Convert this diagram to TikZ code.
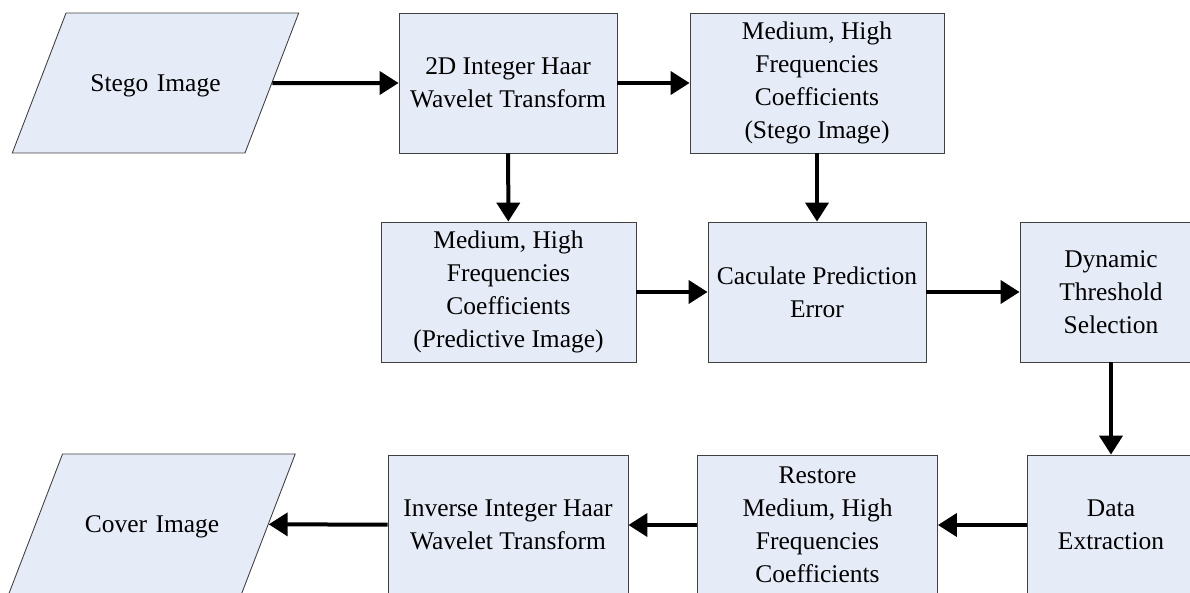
\documentclass[tikz,border=0pt]{standalone}
\usepackage{fontspec}
\setmainfont{Liberation Serif}
\usetikzlibrary{arrows.meta,shapes.geometric}
\definecolor{boxfill}{HTML}{E6ECF7}
\definecolor{boxline}{HTML}{404040}

\begin{document}
\begin{tikzpicture}[
    x=0.02cm, y=-0.02cm,
    box/.style={draw=boxline, fill=boxfill, line width=0.5pt, minimum height=2.8cm,
                inner sep=2pt, align=center, font=\fontsize{14.5}{18.8}\selectfont},
    io/.style={box, trapezium, trapezium left angle=69, trapezium right angle=111,
               minimum height=0pt, inner sep=0pt, text width=3.58cm,
               text height=1.57cm, text depth=1.23cm},
    flow/.style={-{Triangle[length=0.38cm, width=0.46cm]}, line width=0.08cm}
]
    \clip (0,0) rectangle (1190,592);

    % 第一行
    \node[io] (stego) at (155.5,83) {Stego Image};
    \node[box, minimum width=4.36cm] (haar) at (508,83) {2D Integer Haar\\Wavelet Transform};
    \node[box, minimum width=5.08cm] (mhfs) at (817,83) {Medium, High\\Frequencies\\Coefficients\\(Stego Image)};

    % 第二行
    \node[box, minimum width=5.1cm] (mhfp) at (508.5,292) {Medium, High\\Frequencies\\Coefficients\\(Predictive Image)};
    \node[box, minimum width=4.36cm] (calc) at (817,292) {Caculate Prediction\\Error};
    \node[box, minimum width=3.64cm] (dyn) at (1111,292) {Dynamic\\Threshold\\Selection};

    % 第三行
    \node[box, minimum width=3.36cm] (data) at (1111,525) {Data\\Extraction};
    \node[box, minimum width=4.8cm] (restore) at (817.5,525) {Restore\\Medium, High\\Frequencies\\Coefficients};
    \node[box, minimum width=4.8cm] (inv) at (508,525) {Inverse Integer Haar\\Wavelet Transform};
    \node[io] (cover) at (152,524) {Cover Image};

    % 箭头
    \draw[flow] (stego) -- (haar);
    \draw[flow] (haar) -- (mhfs);
    \draw[flow] (haar) -- (mhfp);
    \draw[flow] (mhfs) -- (calc);
    \draw[flow] (mhfp) -- (calc);
    \draw[flow] (calc) -- (dyn);
    \draw[flow] (dyn) -- (data);
    \draw[flow] (data) -- (restore);
    \draw[flow] (restore) -- (inv);
    \draw[flow] (inv) -- (cover);
\end{tikzpicture}
\end{document}
